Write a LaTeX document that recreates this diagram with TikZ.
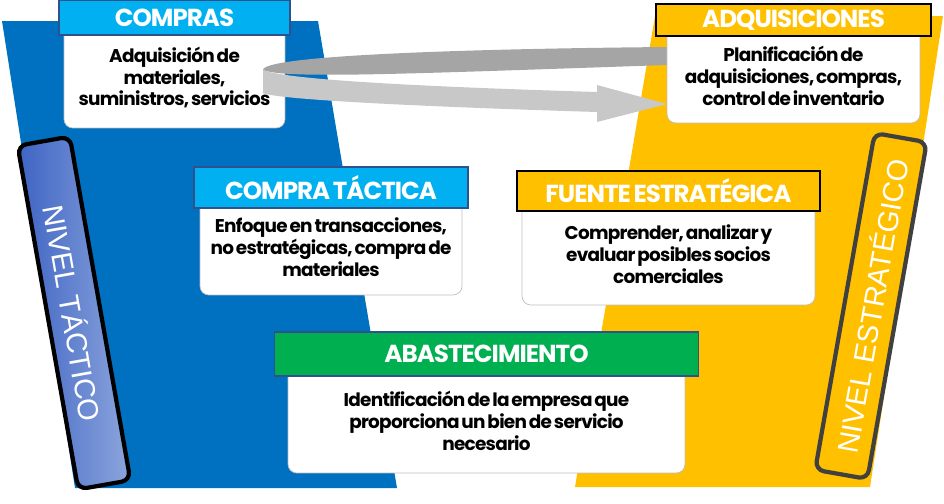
\documentclass[tikz,border=0pt]{standalone}
\usepackage{fontspec}
\setmainfont{Poppins}[LetterSpace=-4, WordSpace=0.6]
\newfontfamily\barfont{Liberation Sans}
\usetikzlibrary{positioning}
\definecolor{nivelblue}{RGB}{0, 112, 192}
\definecolor{nivelyellow}{RGB}{255, 192, 0}
\definecolor{headcyan}{RGB}{0, 176, 240}
\definecolor{headgreen}{RGB}{0, 176, 80}
\definecolor{framenavy}{RGB}{47, 82, 143}
\definecolor{bardark}{RGB}{64, 64, 64}
\definecolor{tacticdark}{RGB}{62, 100, 196}
\definecolor{tacticlight}{RGB}{140, 165, 220}
\definecolor{ribbonback}{RGB}{165, 165, 165}
\definecolor{ribbonfront}{RGB}{200, 200, 200}

\tikzset{
    bodybox/.style={draw=black!25, fill=white, rounded corners=5pt, align=center, inner sep=1pt,
        font=\fontsize{10.5}{12.5}\selectfont\bfseries},
    headbox/.style={draw=#1, line width=0.8pt, text=white, inner sep=0pt,
        font=\fontsize{14}{16}\selectfont\bfseries},
    nivelbar/.style={line width=2.4pt, rounded corners=5pt, text=white, inner sep=0pt,
        font=\barfont\fontsize{16.5}{18}\selectfont}
}

\begin{document}
\begin{tikzpicture}[x=0.02cm, y=-0.02cm]
    \useasboundingbox (0,0) rectangle (944,504);
    % fondos
    \fill[nivelblue] (2,21) -- (318,21) -- (397,488) -- (75,488) -- cycle;
    \fill[nivelyellow] (655,16) -- (943,16) -- (870,487) -- (575,487) -- cycle;

    % cajas
    \node[bodybox, minimum width=5.24cm, minimum height=1.9cm] (tacticabody) at (331,247.5)
        {Enfoque en transacciones,\\no estratégicas, compra de\\materiales};
    \node[headbox=framenavy, fill=headcyan, minimum width=5.48cm, minimum height=0.82cm,
        above=-0.18cm of tacticabody] (tactica) {COMPRA TÁCTICA};

    \node[bodybox, minimum width=5.86cm, minimum height=2.04cm] (fuentebody) at (668.5,254)
        {Comprender, analizar y\\evaluar posibles socios\\comerciales};
    \node[headbox=black, fill=nivelyellow, minimum width=6.06cm, minimum height=0.8cm,
        above=-0.18cm of fuentebody] (fuente) {FUENTE ESTRATÉGICA};

    \node[bodybox, minimum width=7.94cm, minimum height=2.1cm] (abastobody) at (486.5,420.5)
        {Identificación de la empresa que\\proporciona un bien de servicio\\necesario};
    \node[headbox=framenavy, fill=headgreen, minimum width=8.48cm, minimum height=0.88cm,
        above=-0.18cm of abastobody] (abasto) {ABASTECIMIENTO};

    \node[bodybox, minimum width=4.42cm, minimum height=2.02cm] (comprasbody) at (174.5,77.5)
        {Adquisición de\\materiales,\\suministros, servicios};
    \node[headbox=framenavy, fill=headcyan, minimum width=4.62cm, minimum height=0.7cm,
        above=-0.18cm of comprasbody] (compras) {COMPRAS};

    % flecha curva
    \fill[ribbonback] (667,47) .. controls (450,49) and (263,56) .. (263,70)
        .. controls (285,79) and (400,74) .. (667,65) -- cycle;
    \fill[ribbonfront] (263,70) .. controls (285,79) and (400,86) .. (597,92) -- (597,85)
        -- (667,104) -- (597,122) -- (597,112) .. controls (400,106) and (275,99) .. (263,93) -- cycle;

    \node[bodybox, minimum width=5.06cm, minimum height=1.9cm] (adquibody) at (793.5,75.5)
        {Planificación de\\adquisiciones, compras,\\control de inventario};
    \node[headbox=black, fill=nivelyellow, minimum width=5.5cm, minimum height=0.64cm,
        above=-0.18cm of adquibody] (adqui) {ADQUISICIONES};

    % niveles
    \node[nivelbar, draw=black, left color=tacticdark, right color=tacticlight,
        minimum width=6.98cm, minimum height=1.06cm, rotate=-80] (tactico) at (74,313) {NIVEL TÁCTICO};
    \node[nivelbar, draw=bardark, fill=nivelyellow,
        minimum width=6.84cm, minimum height=1.06cm, rotate=80] (estrategico) at (871,306) {NIVEL ESTRATÉGICO};
\end{tikzpicture}
\end{document}
